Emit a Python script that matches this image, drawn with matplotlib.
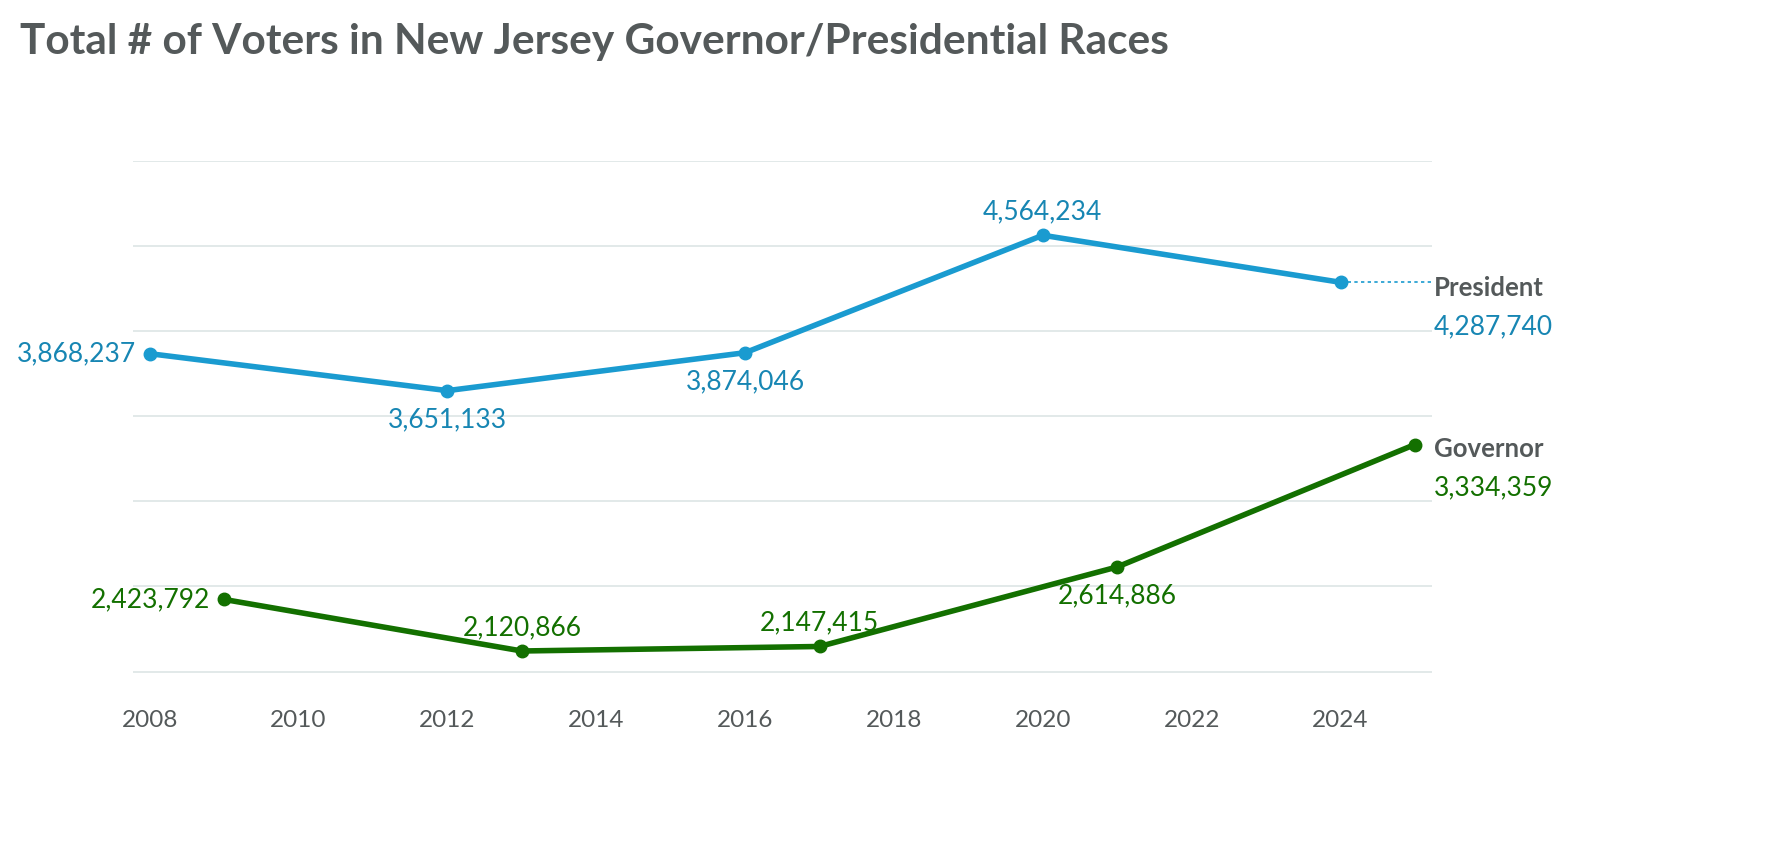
import matplotlib
matplotlib.use("Agg")
import matplotlib.pyplot as plt

plt.rcParams['font.family'] = ['Lato', 'DejaVu Sans']

pres_years = [2008, 2012, 2016, 2020, 2024]
pres_vals = [3868237, 3651133, 3874046, 4564234, 4287740]
gov_years = [2009, 2013, 2017, 2021, 2025]
gov_vals = [2423792, 2120866, 2147415, 2614886, 3334359]
xticks = [2008, 2010, 2012, 2014, 2016, 2018, 2020, 2022, 2024]

BLUE = '#1a9bd0'
BLUE_T = '#1786b3'
GREEN = '#137000'
GREY = '#54595a'

fig = plt.figure(figsize=(17.68, 8.48), dpi=100)
ax = fig.add_axes([0.075, 0.186, 0.735, 0.624])
ax.set_xlim(2007.77, 2025.23)
ax.set_ylim(1890000, 5000000)
for y in range(2000000, 5000001, 500000):
    ax.axhline(y, color='#dde5e5', lw=1.2, zorder=0)
for s in ax.spines.values():
    s.set_visible(False)
ax.set_yticks([])
ax.set_xticks(xticks)
ax.set_xticklabels([str(x) for x in xticks], fontsize=17.5, color=GREY)
ax.tick_params(axis='x', length=0, pad=14)

ax.plot(pres_years, pres_vals, color=BLUE, lw=4, marker='o', ms=9, zorder=3)
ax.plot(gov_years, gov_vals, color=GREEN, lw=4, marker='o', ms=9, zorder=3)
ax.plot([pres_years[-1], 2025.23], [pres_vals[-1]] * 2, color=BLUE, lw=1.2, ls=(0, (2, 2)), clip_on=False)

def fmt(v):
    return f"{v:,}"

fs = 19
ax.annotate(fmt(pres_vals[0]), (pres_years[0], pres_vals[0]), xytext=(-10, 0), textcoords='offset points', ha='right', va='center', color=BLUE_T, fontsize=fs)
for i in [1, 2]:
    ax.annotate(fmt(pres_vals[i]), (pres_years[i], pres_vals[i]), xytext=(0, -12), textcoords='offset points', ha='center', va='top', color=BLUE_T, fontsize=fs)
ax.annotate(fmt(pres_vals[3]), (pres_years[3], pres_vals[3]), xytext=(0, 8), textcoords='offset points', ha='center', va='bottom', color=BLUE_T, fontsize=fs)
ax.annotate(fmt(gov_vals[0]), (gov_years[0], gov_vals[0]), xytext=(-10, 0), textcoords='offset points', ha='right', va='center', color=GREEN, fontsize=fs)
for i in [1, 2]:
    ax.annotate(fmt(gov_vals[i]), (gov_years[i], gov_vals[i]), xytext=(0, 8), textcoords='offset points', ha='center', va='bottom', color=GREEN, fontsize=fs)
ax.annotate(fmt(gov_vals[3]), (gov_years[3], gov_vals[3]), xytext=(0, -12), textcoords='offset points', ha='center', va='top', color=GREEN, fontsize=fs)

fig.text(1434/1768, 1 - 288/848, 'President', fontsize=18.5, fontweight='bold', color=GREY, va='center')
fig.text(1434/1768, 1 - 327/848, fmt(pres_vals[-1]), fontsize=fs, color=BLUE_T, va='center')
fig.text(1434/1768, 1 - 449/848, 'Governor', fontsize=18.5, fontweight='bold', color=GREY, va='center')
fig.text(1434/1768, 1 - 488/848, fmt(gov_vals[-1]), fontsize=fs, color=GREEN, va='center')

fig.text(20/1768, 1 - 42/848, 'Total # of Voters in New Jersey Governor/Presidential Races', fontsize=30.5, fontweight='bold', color=GREY, va='center')

fig.savefig('out.png', dpi=100, facecolor='white')
